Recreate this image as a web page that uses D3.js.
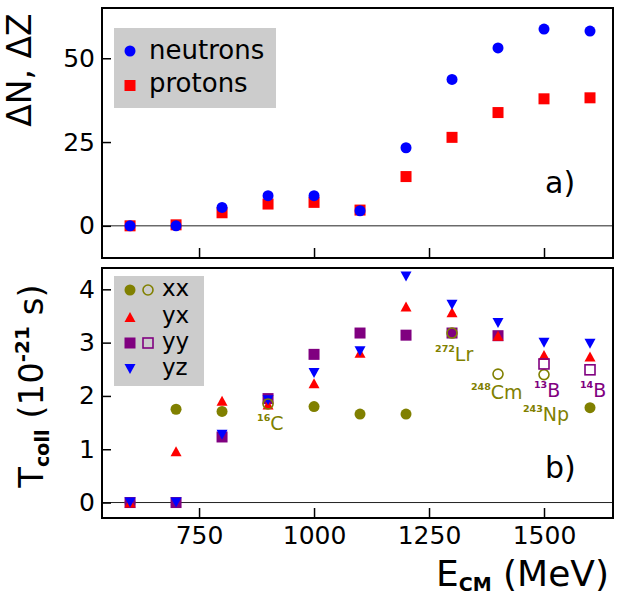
<!DOCTYPE html>
<html><head><meta charset="utf-8">
<script src="https://cdn.jsdelivr.net/npm/d3@7"></script>
<style>
html,body{margin:0;padding:0;background:#fff;}
svg text{font-family:"DejaVu Sans",sans-serif;}
</style></head>
<body><svg id="c" width="632" height="600"></svg>
<script>
// ---------- data ----------
const energies = [600, 700, 800, 900, 1000, 1100, 1200, 1300, 1400, 1500, 1600];
const neutrons = [0, 0, 5.5, 9.0, 9.0, 4.5, 23.3, 43.7, 53.1, 58.7, 58.1];
const protons  = [0, 0.3, 3.9, 6.5, 7.0, 4.7, 14.7, 26.4, 33.8, 37.9, 38.2];

const xxFilled = [0, 1.75, 1.71, null, 1.80, 1.66, 1.66, null, null, null, 1.78];
const xxOpen   = [null, null, null, 1.85, null, null, null, 3.18, 2.41, 2.40, null];
const yxVals   = [0, 0.96, 1.91, 1.84, 2.24, 2.81, 3.68, 3.57, 3.13, 2.77, 2.74];
const yyFilled = [0, 0, 1.23, 1.95, 2.78, 3.18, 3.14, 3.18, 3.13, null, null];
const yyOpen   = [null, null, null, null, null, null, null, null, null, 2.60, 2.49];
const yzVals   = [0, 0, 1.27, 1.92, 2.43, 2.84, 4.24, 3.71, 3.37, 3.00, 2.98];

const xTicks = [750, 1000, 1250, 1500];
const yTicksTop = [0, 25, 50];
const yTicksBot = [0, 1, 2, 3, 4];

const annotations = [
  {sup: "16",  main: "C",  e: 900,  v: 1.85, c: "olive"},
  {sup: "272", main: "Lr", e: 1300, v: 3.18, c: "olive"},
  {sup: "248", main: "Cm", e: 1400, v: 2.41, c: "olive"},
  {sup: "243", main: "Np", e: 1500, v: 2.40, c: "olive"},
  {sup: "13",  main: "B",  e: 1500, v: 2.60, c: "purple"},
  {sup: "14",  main: "B",  e: 1600, v: 2.49, c: "purple"}
];

// ---------- layout ----------
const COL = {olive: "#808000", red: "#ff0000", purple: "#800080", blue: "#0000ff"};
const L = 102, R = 613;
const topP = {t: 8, b: 258};
const botP = {t: 268, b: 518};

const svg = d3.select("#c");
const x = d3.scaleLinear().domain([539, 1650]).range([L, R]);
const yT = d3.scaleLinear().domain([-9.6, 65]).range([topP.b, topP.t]);
const yB = d3.scaleLinear().domain([-0.29, 4.4]).range([botP.b, botP.t]);

function triUp(cx, cy, w = 11, h = 10) {
  return `M${cx - w/2},${cy + h/2}L${cx + w/2},${cy + h/2}L${cx},${cy - h/2}Z`;
}
function triDown(cx, cy, w = 11, h = 10) {
  return `M${cx - w/2},${cy - h/2}L${cx + w/2},${cy - h/2}L${cx},${cy + h/2}Z`;
}

function panelFrame(p, y, yt) {
  const g = svg.append("g");
  g.append("line").attr("x1", L).attr("x2", R).attr("y1", y(0)).attr("y2", y(0))
    .attr("stroke", "#222").attr("stroke-width", 1);
  const ay = g.append("g").attr("transform", `translate(${L},0)`)
    .call(d3.axisLeft(y).tickValues(yt).tickSize(-9).tickPadding(7).tickFormat(d3.format("d")));
  ay.select(".domain").remove();
  ay.selectAll("line").attr("stroke", "#000").attr("stroke-width", 1.5);
  ay.selectAll("text").attr("font-size", 25).attr("fill", "#000");
  return g;
}

function frameRect(p) {
  svg.append("rect").attr("x", L).attr("y", p.t).attr("width", R - L).attr("height", p.b - p.t)
    .attr("fill", "none").attr("stroke", "#000").attr("stroke-width", 2);
}

// ---------- top panel ----------
panelFrame(topP, yT, yTicksTop);
{
  const ax = svg.append("g").attr("transform", `translate(0,${topP.b})`)
    .call(d3.axisBottom(x).tickValues(xTicks).tickSize(-10).tickFormat(""));
  ax.select(".domain").remove();
  ax.selectAll("line").attr("stroke", "#000").attr("stroke-width", 1.5);
}
const pts = energies.map((e, i) => ({e, n: neutrons[i], p: protons[i]}));
svg.append("g").selectAll("rect").data(pts).join("rect")
  .attr("x", d => x(d.e) - 5.5).attr("y", d => yT(d.p) - 5.5)
  .attr("width", 11).attr("height", 11).attr("fill", COL.red);
svg.append("g").selectAll("circle").data(pts).join("circle")
  .attr("cx", d => x(d.e)).attr("cy", d => yT(d.n)).attr("r", 5.5).attr("fill", COL.blue);
frameRect(topP);

// top legend
{
  const g = svg.append("g");
  g.append("rect").attr("x", 114).attr("y", 28).attr("width", 162).attr("height", 80).attr("fill", "#cccccc");
  g.append("circle").attr("cx", 130).attr("cy", 51).attr("r", 5.5).attr("fill", COL.blue);
  g.append("rect").attr("x", 124.5).attr("y", 80).attr("width", 11).attr("height", 11).attr("fill", COL.red);
  g.append("text").attr("x", 149).attr("y", 59).attr("font-size", 26).text("neutrons");
  g.append("text").attr("x", 149).attr("y", 92).attr("font-size", 26).text("protons");
}
svg.append("text").attr("x", 545).attr("y", 193).attr("font-size", 30).text("a)");

// ---------- bottom panel ----------
panelFrame(botP, yB, yTicksBot);
{
  const ax = svg.append("g").attr("transform", `translate(0,${botP.b})`)
    .call(d3.axisBottom(x).tickValues(xTicks).tickSize(-10).tickPadding(8).tickFormat(d3.format("d")));
  ax.select(".domain").remove();
  ax.selectAll("line").attr("stroke", "#000").attr("stroke-width", 1.5);
  ax.selectAll("text").attr("font-size", 25).attr("fill", "#000");
}
function series(vals) {
  return energies.map((e, i) => ({e, v: vals[i]})).filter(d => d.v !== null);
}
const gB = svg.append("g");
gB.append("g").selectAll("circle").data(series(xxFilled)).join("circle")
  .attr("cx", d => x(d.e)).attr("cy", d => yB(d.v)).attr("r", 5.5).attr("fill", COL.olive);
gB.append("g").selectAll("rect").data(series(yyFilled)).join("rect")
  .attr("x", d => x(d.e) - 5.5).attr("y", d => yB(d.v) - 5.5).attr("width", 11).attr("height", 11)
  .attr("fill", COL.purple);
gB.append("g").selectAll("path").data(series(yxVals)).join("path")
  .attr("d", d => triUp(x(d.e), yB(d.v))).attr("fill", COL.red);
gB.append("g").selectAll("path").data(series(yzVals)).join("path")
  .attr("d", d => triDown(x(d.e), yB(d.v))).attr("fill", COL.blue);
gB.append("g").selectAll("circle").data(series(xxOpen)).join("circle")
  .attr("cx", d => x(d.e)).attr("cy", d => yB(d.v)).attr("r", 5).attr("fill", "none")
  .attr("stroke", COL.olive).attr("stroke-width", 1.6);
gB.append("g").selectAll("rect").data(series(yyOpen)).join("rect")
  .attr("x", d => x(d.e) - 5).attr("y", d => yB(d.v) - 5).attr("width", 10).attr("height", 10)
  .attr("fill", "none").attr("stroke", COL.purple).attr("stroke-width", 1.6);

// annotations (text offsets from the marker)
const annOff = {
  "16C":   [-11, 26],
  "272Lr": [-17, 28],
  "248Cm": [-27, 25],
  "243Np": [-21, 46],
  "13B":   [-10, 33],
  "14B":   [-10, 27]
};
annotations.forEach(a => {
  const off = annOff[a.sup + a.main];
  const t = svg.append("text").attr("x", x(a.e) + off[0]).attr("y", yB(a.v) + off[1])
    .attr("fill", COL[a.c]);
  t.append("tspan").attr("font-size", 9.5).attr("font-weight", "bold").attr("dy", -9).text(a.sup);
  t.append("tspan").attr("font-size", 19).attr("dy", 9).text(a.main);
});

frameRect(botP);

// bottom legend
{
  const g = svg.append("g");
  g.append("rect").attr("x", 114).attr("y", 276).attr("width", 90).attr("height", 110).attr("fill", "#cccccc");
  const rows = [290, 317, 343, 369];
  g.append("circle").attr("cx", 130).attr("cy", rows[0]).attr("r", 5.5).attr("fill", COL.olive);
  g.append("circle").attr("cx", 148).attr("cy", rows[0]).attr("r", 5).attr("fill", "none")
    .attr("stroke", COL.olive).attr("stroke-width", 1.6);
  g.append("path").attr("d", triUp(130, rows[1])).attr("fill", COL.red);
  g.append("rect").attr("x", 124.5).attr("y", rows[2] - 5.5).attr("width", 11).attr("height", 11).attr("fill", COL.purple);
  g.append("rect").attr("x", 143).attr("y", rows[2] - 5).attr("width", 10).attr("height", 10)
    .attr("fill", "none").attr("stroke", COL.purple).attr("stroke-width", 1.6);
  g.append("path").attr("d", triDown(130, rows[3])).attr("fill", COL.blue);
  ["xx", "yx", "yy", "yz"].forEach((s, i) => {
    g.append("text").attr("x", 162).attr("y", rows[i] + 6).attr("font-size", 23).text(s);
  });
}
svg.append("text").attr("x", 545).attr("y", 478).attr("font-size", 30).text("b)");

// ---------- axis titles ----------
svg.append("text").attr("transform", "translate(31,70) rotate(-90)")
  .attr("text-anchor", "middle").attr("font-size", 33).text("ΔN, ΔZ");

{
  const t = svg.append("text").attr("transform", "translate(43,386) rotate(-90)")
    .attr("text-anchor", "middle").attr("font-size", 34);
  t.append("tspan").text("T");
  t.append("tspan").attr("font-size", 19).attr("font-weight", "bold").attr("dy", 6).text("coll");
  t.append("tspan").attr("dy", -6).text(" (10");
  t.append("tspan").attr("font-size", 20).attr("font-weight", "bold").attr("dy", -14).text("-21");
  t.append("tspan").attr("dy", 14).text(" s)");
}
{
  const t = svg.append("text").attr("x", 436).attr("y", 586).attr("font-size", 36);
  t.append("tspan").text("E");
  t.append("tspan").attr("font-size", 19).attr("font-weight", "bold").attr("dy", 5).text("CM");
  t.append("tspan").attr("dy", -5).text(" (MeV)");
}
</script></body></html>
